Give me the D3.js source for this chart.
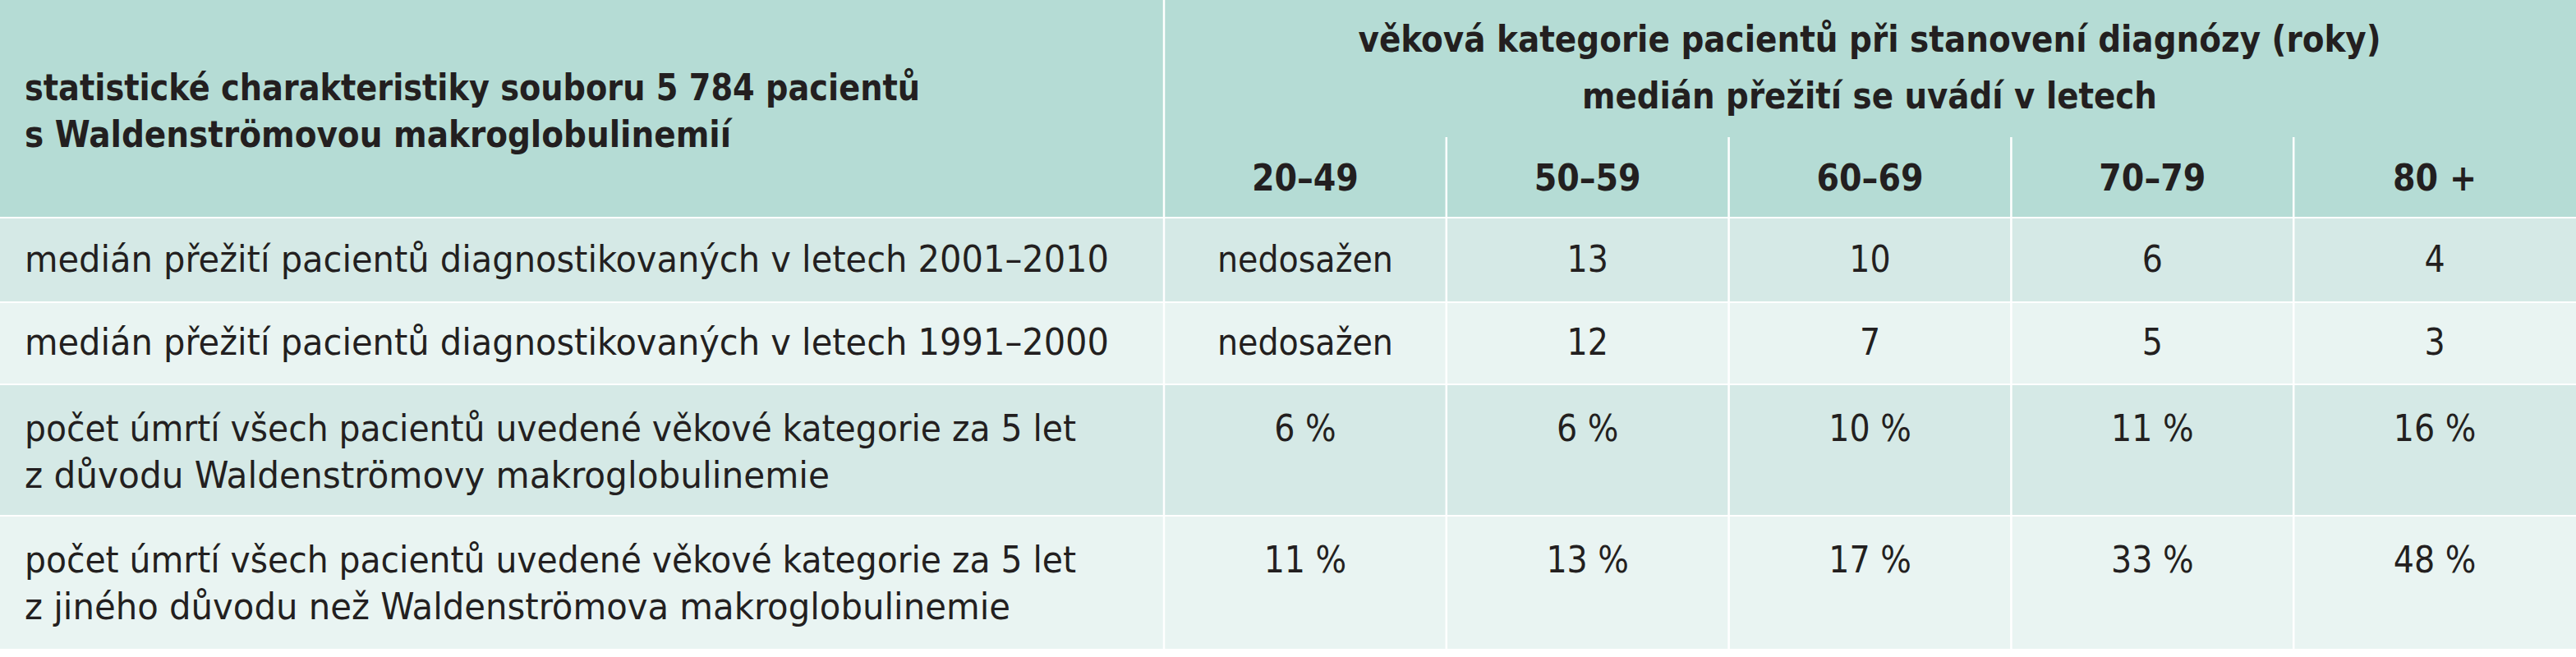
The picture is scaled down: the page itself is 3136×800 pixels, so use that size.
<!DOCTYPE html>
<html><head><meta charset="utf-8">
<script src="https://cdn.jsdelivr.net/npm/d3@7"></script>
<style>body{margin:0;background:#fff}</style></head>
<body><svg id="c" width="3136" height="800"></svg>
<script>
const ageGroups = ["20–49","50–59","60–69","70–79","80 +"];
const rowLabels = [
 ["medián přežití pacientů diagnostikovaných v letech 2001–2010"],
 ["medián přežití pacientů diagnostikovaných v letech 1991–2000"],
 ["počet úmrtí všech pacientů uvedené věkové kategorie za 5 let","z důvodu Waldenströmovy makroglobulinemie"],
 ["počet úmrtí všech pacientů uvedené věkové kategorie za 5 let","z jiného důvodu než Waldenströmova makroglobulinemie"]
];
const median2001 = ["nedosažen","13","10","6","4"];
const median1991 = ["nedosažen","12","7","5","3"];
const deathsWM = ["6 %","6 %","10 %","11 %","16 %"];
const deathsOther = ["11 %","13 %","17 %","33 %","48 %"];
const headerLeft = ["statistické charakteristiky souboru 5 784 pacientů","s Waldenströmovou makroglobulinemií"];
const headerRight = ["věková kategorie pacientů při stanovení diagnózy (roky)","medián přežití se uvádí v letech"];

const rows = [median2001, median1991, deathsWM, deathsOther];
const svg = d3.select("#c");
const font = "'Liberation Sans Narrow','DejaVu Sans Condensed',sans-serif";
const x = d3.scaleBand().domain(ageGroups).range([1417, 3136]);
const rowBounds = [[264,367],[367,467],[467,627],[627,790]];
const rowFill = ["#d5e9e6","#e9f4f2","#d5e9e6","#e9f4f2"];
const txtCol = "#231f20";

// header
svg.append("rect").attr("x",0).attr("y",0).attr("width",3136).attr("height",264).attr("fill","#b5dcd5");
rowBounds.forEach((b,i)=>svg.append("rect").attr("x",0).attr("y",b[0]+2).attr("width",3136).attr("height",b[1]-b[0]-2).attr("fill",rowFill[i]));

// dividers
svg.append("line").attr("x1",1417).attr("x2",1417).attr("y1",0).attr("y2",790).attr("stroke","#fff").attr("stroke-width",2.5);
ageGroups.slice(1).forEach(g=>svg.append("line").attr("x1",x(g)).attr("x2",x(g)).attr("y1",167).attr("y2",790).attr("stroke","#fff").attr("stroke-width",2.5));

function t(str,xx,yy,anchor,bold,w){
  const el = svg.append("text").attr("x",xx).attr("y",yy).attr("text-anchor",anchor)
   .attr("dominant-baseline","middle").attr("font-family",font).attr("font-size",44)
   .attr("font-weight",bold?"bold":"normal").attr("fill",txtCol).text(str);
  if(w){ const bb = el.node().getComputedTextLength(); el.attr("textLength",w).attr("lengthAdjust","spacingAndGlyphs"); }
  return el;
}
t(headerLeft[0],30,110,"start",true,1090);
t(headerLeft[1],30,167,"start",true,860);
t(headerRight[0],2276,51,"middle",true,1245);
t(headerRight[1],2276,120,"middle",true,700);
ageGroups.forEach(g=>t(g,x(g)+x.bandwidth()/2,220,"middle",true));

const labelW = [[1320],[1320],[1280,980],[1280,1200]];
rows.forEach((vals,i)=>{
  const y0 = rowBounds[i][0];
  const lines = rowLabels[i];
  const first = lines.length===1 ? (rowBounds[i][0]+rowBounds[i][1])/2+3 : y0+58;
  lines.forEach((l,j)=>t(l,30,first+j*57,"start",false,labelW[i][j]));
  vals.forEach((v,k)=>t(v,x(ageGroups[k])+x.bandwidth()/2,first,"middle",false));
});
</script></body></html>
